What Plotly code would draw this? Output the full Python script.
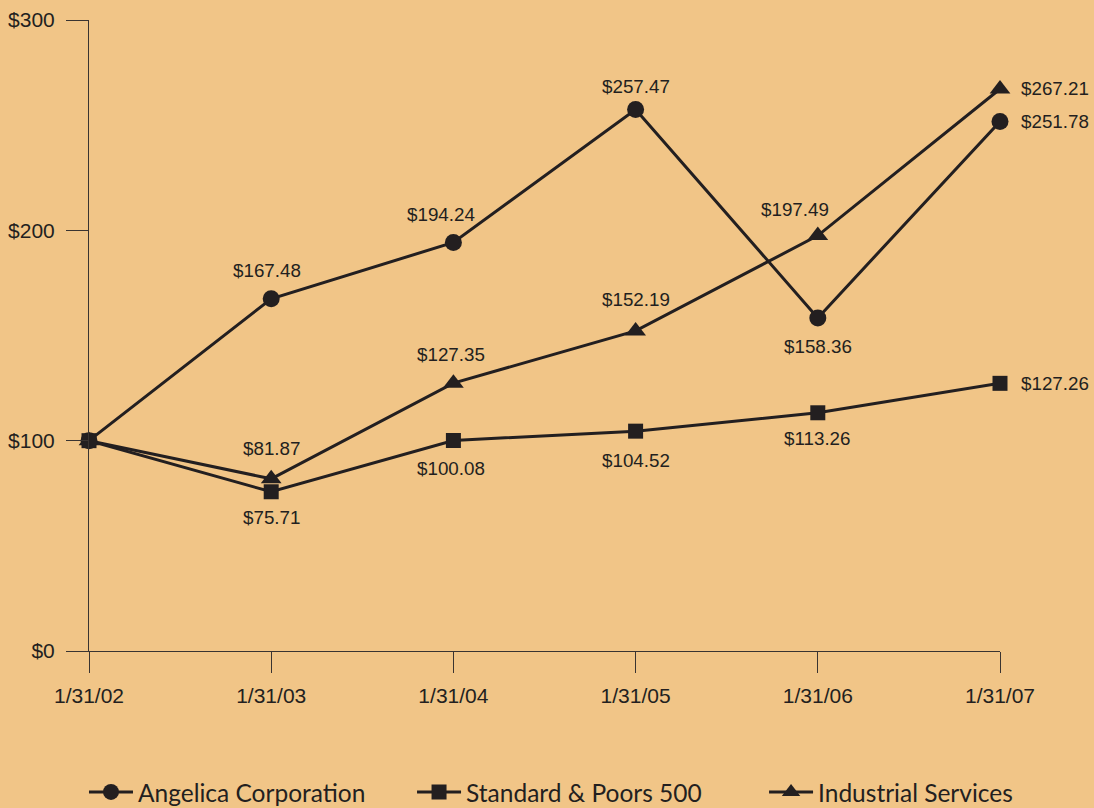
import plotly.graph_objects as go

dates = ["1/31/02", "1/31/03", "1/31/04", "1/31/05", "1/31/06", "1/31/07"]
angelica = [100, 167.48, 194.24, 257.47, 158.36, 251.78]
sp500 = [100, 75.71, 100.08, 104.52, 113.26, 127.26]
industrial = [100, 81.87, 127.35, 152.19, 197.49, 267.21]

# label placement (styling): (xshift, yshift, xanchor) per point; None = no label
ang_lab = [None, (-4, 28, "center"), (-12, 28, "center"), (0, 23, "center"), (0, -29, "center"), (19, 0, "left")]
sp_lab = [None, (0, -26, "center"), (-2, -28, "center"), (0, -29, "center"), (0, -26, "center"), (19, 0, "left")]
ind_lab = [None, (0, 30, "center"), (-2, 29, "center"), (0, 31, "center"), (-23, 26, "center"), (19, 0, "left")]

ink = "#231F20"
axc = "#3a3431"
bg = "#F1C587"
tickfont = dict(family="Liberation Sans, Arial", size=21, color=ink)
labfont = dict(family="Liberation Sans, Arial", size=18.8, color=ink)

fig = go.Figure()
fig.add_trace(go.Scatter(x=dates, y=sp500, name="Standard & Poors 500", mode="lines+markers",
                         line=dict(color=ink, width=3), marker=dict(symbol="square", size=15, color=ink),
                         legend="legend2", cliponaxis=False))
fig.add_trace(go.Scatter(x=dates, y=industrial, name="Industrial Services", mode="lines+markers",
                         line=dict(color=ink, width=3), marker=dict(symbol="triangle-up", size=18, color=ink),
                         legend="legend3", cliponaxis=False))
fig.add_trace(go.Scatter(x=dates, y=angelica, name="Angelica Corporation", mode="lines+markers",
                         line=dict(color=ink, width=3), marker=dict(symbol="circle", size=17, color=ink),
                         legend="legend", cliponaxis=False))

for vals, labs in ((angelica, ang_lab), (sp500, sp_lab), (industrial, ind_lab)):
    for d, v, lab in zip(dates, vals, labs):
        if lab is None:
            continue
        xs, ys, xa = lab
        fig.add_annotation(x=d, y=v, text="${:.2f}".format(v), showarrow=False,
                           xshift=xs, yshift=ys, xanchor=xa, yanchor="middle", font=labfont)

leg_common = dict(orientation="h", xanchor="left", y=-0.2235, yanchor="middle",
                  font=dict(family="Lato, Noto Sans", size=24.5, color=ink),
                  bgcolor="rgba(0,0,0,0)", itemwidth=44)

fig.update_layout(
    width=1094, height=808,
    margin=dict(l=89, r=94, t=20, b=157, autoexpand=False),
    paper_bgcolor=bg, plot_bgcolor=bg,
    showlegend=True,
    legend=dict(x=-0.0055, **leg_common),
    legend2=dict(x=0.3546, **leg_common),
    legend3=dict(x=0.741, **leg_common),
    xaxis=dict(type="category", range=[0, 5], showgrid=False, zeroline=False,
               showline=True, linecolor=axc, linewidth=1,
               ticks="outside", ticklen=21, tickcolor=axc, tickwidth=1,
               ticklabelstandoff=5, tickfont=tickfont),
    yaxis=dict(range=[0, 300], tickvals=[0, 100, 200, 300], ticktext=["$0", "$100", "$200", "$300"],
               showgrid=False, zeroline=False, showline=True, linecolor=axc, linewidth=1,
               ticks="outside", ticklen=22, tickcolor=axc, tickwidth=1,
               ticklabelstandoff=7, tickfont=tickfont),
)

fig.write_html("out.html")
